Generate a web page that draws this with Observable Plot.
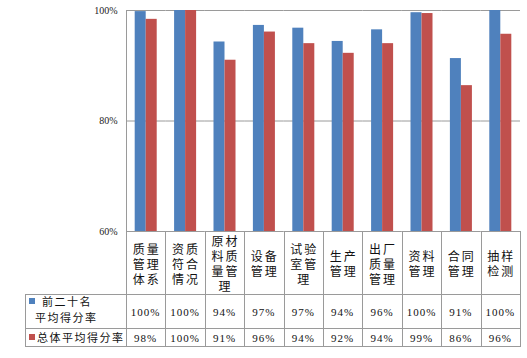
<!DOCTYPE html>
<html><head><meta charset="utf-8">
<script src="https://cdn.jsdelivr.net/npm/d3@7"></script>
<script src="https://cdn.jsdelivr.net/npm/@observablehq/plot@0.6"></script>
<style>
body{margin:0;background:#fff;font-family:"Noto Sans CJK SC",sans-serif;}
#wrap{position:relative;width:527px;height:358px;overflow:hidden;}
#wrap svg{position:absolute;left:0;top:0;}
.cell{position:absolute;box-sizing:border-box;display:flex;align-items:center;justify-content:center;color:#111;text-align:center;}
.ln{position:absolute;background:#9a9a9a;}
.hdr{width:30px;font-size:12px;line-height:15px;letter-spacing:2px;padding-left:2px;word-break:break-all;}
.pct{font-family:"Liberation Serif",serif;font-size:11px;letter-spacing:1px;}
.leg{position:absolute;font-size:11px;letter-spacing:1.5px;color:#111;white-space:nowrap;line-height:14px;}
.sw{position:absolute;width:6px;height:6px;}
</style></head><body><div id="wrap"></div>
<script>
const categories = ["质量管理体系","资质符合情况","原材料质量管理","设备管理","试验室管理","生产管理","出厂质量管理","资料管理","合同管理","抽样检测"];
const seriesNames = ["前二十名平均得分率","总体平均得分率"];
const top20Values = [0.998,1.0,0.943,0.973,0.968,0.944,0.965,0.996,0.913,1.0];
const overallValues = [0.984,1.0,0.910,0.961,0.940,0.9225,0.940,0.9945,0.864,0.957];
const top20Labels = ["100%","100%","94%","97%","97%","94%","96%","100%","91%","100%"];
const overallLabels = ["98%","100%","91%","96%","94%","92%","94%","99%","86%","96%"];
const yTicks = [0.6,0.8,1.0];
const colors = ["#4F81BD","#C0504D"];

const data = categories.flatMap((c,i)=>[
  {category:c, series:seriesNames[0], value:top20Values[i]},
  {category:c, series:seriesNames[1], value:overallValues[i]}
]);

const W = 527;
const chart = Plot.plot({
  width: W, height: 240,
  marginLeft: 126, marginRight: 7, marginTop: 10, marginBottom: 9,
  fx: {domain: categories, padding: 0, round: false, axis: null, label: null},
  x: {domain: seriesNames, paddingInner: 0, paddingOuter: 0.79, round: false, axis: null, label: null},
  y: {domain: [0.6, 1.0], axis: null, label: null},
  color: {domain: seriesNames, range: colors},
  style: {background: "transparent"},
  marks: [
    Plot.ruleY(yTicks, {stroke: "#9a9a9a"}),
    Plot.barY(data, {fx: "category", x: "series", y1: () => 0.6, y2: "value", fill: "series"}),
    Plot.axisY({ticks: yTicks, tickFormat: d3.format(".0%"), tickSize: 0, tickPadding: 9,
      label: null, fontSize: 10, fontFamily: "Liberation Serif", fill: "#222"}),
    Plot.frame({anchor: "left", facetAnchor: "left", stroke: "#9a9a9a"})
  ]
});
const wrap = document.getElementById("wrap");
wrap.appendChild(chart);

// table geometry from the plot's scales
const fxs = chart.scale("fx");
const ys = chart.scale("y");
let bw = fxs.bandwidth;
let lefts = categories.map(c => fxs.apply(c));
if (!isFinite(lefts[0]) || lefts[0] < 50) {
  const sc = d3.scaleBand(categories, [126, W - 7]).padding(0);
  lefts = categories.map(c => sc(c)); bw = sc.bandwidth();
}
const tTop = Math.round(ys.apply(0.6));
const rows = [tTop, 294, 328, 346];
const tLeft = 25;
const tRight = lefts[lefts.length-1] + bw;

function line(x,y,w,h){const d=document.createElement("div");d.className="ln";Object.assign(d.style,{left:x+"px",top:y+"px",width:w+"px",height:h+"px"});wrap.appendChild(d);}
function cell(x,y,w,h,html,cls){const d=document.createElement("div");d.className="cell";Object.assign(d.style,{left:x+"px",top:y+"px",width:w+"px",height:h+"px"});d.innerHTML=`<div class="${cls}">${html}</div>`;wrap.appendChild(d);}

for (const r of rows.slice(1)) line(tLeft, r, Math.round(tRight) - tLeft + 1, 1);
line(tLeft, rows[1], 1, rows[3]-rows[1]+1);
for (let i=0;i<=categories.length;i++){
  const x = Math.round(i<categories.length ? lefts[i] : tRight);
  line(x, tTop, 1, rows[3]-tTop+1);
}
categories.forEach((c,i)=>{
  cell(lefts[i], rows[0]+1, bw, rows[1]-rows[0]-1, c, "hdr");
  cell(lefts[i], rows[1]+1, bw, rows[2]-rows[1]-1, top20Labels[i], "pct");
  cell(lefts[i], rows[2]+1, bw, rows[3]-rows[2]-1, overallLabels[i], "pct");
});
function sw(x,y,c){const d=document.createElement("div");d.className="sw";Object.assign(d.style,{left:x+"px",top:y+"px",background:c});wrap.appendChild(d);}
function leg(x,y,t){const d=document.createElement("div");d.className="leg";Object.assign(d.style,{left:x+"px",top:y+"px"});d.textContent=t;wrap.appendChild(d);}
sw(29, 298, colors[0]);
leg(42, 294, "前二十名");
leg(35, 310, "平均得分率");
sw(29, 334, colors[1]);
leg(37, 330, "总体平均得分率");
</script></body></html>
